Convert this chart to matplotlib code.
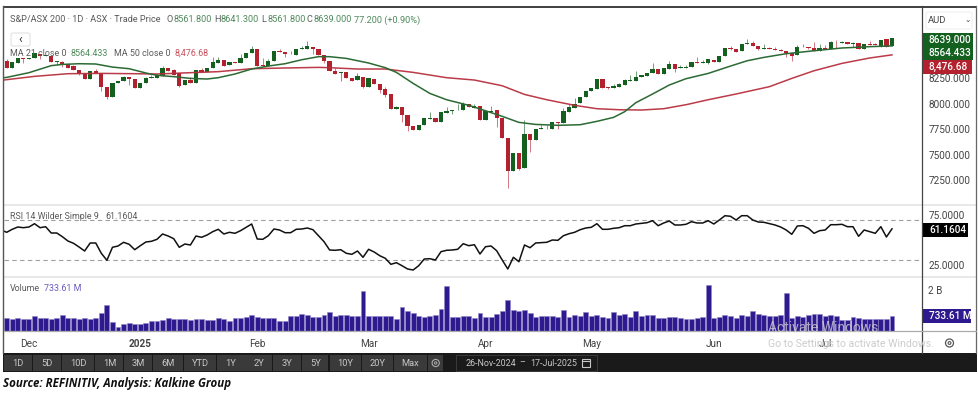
import matplotlib
matplotlib.use("Agg")
import matplotlib.pyplot as plt
from matplotlib.patches import Rectangle, FancyBboxPatch, Circle
import numpy as np

plt.rcParams['font.family'] = ['Roboto', 'DejaVu Sans']

W, H = 979, 395

opens = [8416, 8351, 8400, 8443, 8436, 8443, 8482, 8469, 8469, 8407, 8407, 8387, 8367, 8325, 8292, 8243,
         8318, 8302, 8165, 8063, 8198, 8221, 8256, 8237, 8152, 8197, 8250, 8253, 8272, 8344, 8331, 8295,
         8184, 8230, 8204, 8325, 8305, 8344, 8400, 8423, 8374, 8406, 8393, 8442, 8498, 8530, 8374, 8367,
         8416, 8517, 8504, 8481, 8475, 8534, 8534, 8553, 8537, 8475, 8413, 8321, 8298, 8305, 8250, 8230,
         8263, 8165, 8243, 8194, 8138, 8089, 7949, 7962, 7887, 7782, 7743, 7786, 7851, 7861, 7822, 7910,
         7926, 7942, 7939, 7998, 7959, 7975, 7841, 7916, 7933, 7857, 7661, 7338, 7511, 7364, 7704, 7639,
         7746, 7763, 7750, 7815, 7812, 7920, 7959, 8001, 8067, 8125, 8138, 8236, 8161, 8148, 8165, 8184,
         8223, 8223, 8256, 8269, 8295, 8341, 8289, 8338, 8383, 8348, 8351, 8357, 8403, 8397, 8400, 8429,
         8403, 8462, 8544, 8537, 8511, 8586, 8596, 8563, 8537, 8544, 8537, 8524, 8517, 8498, 8472, 8550,
         8553, 8547, 8514, 8544, 8534, 8596, 8593, 8602, 8583, 8593, 8534, 8583, 8583, 8557, 8629, 8561.8]
closes = [8351, 8403, 8443, 8433, 8443, 8492, 8469, 8475, 8410, 8413, 8377, 8348, 8325, 8289, 8243, 8318,
          8302, 8158, 8063, 8201, 8221, 8256, 8237, 8152, 8197, 8253, 8256, 8282, 8348, 8321, 8282, 8174,
          8230, 8204, 8328, 8305, 8348, 8403, 8426, 8367, 8403, 8393, 8442, 8498, 8530, 8367, 8367, 8416,
          8517, 8508, 8481, 8488, 8534, 8540, 8563, 8534, 8475, 8413, 8321, 8289, 8308, 8246, 8223, 8266,
          8165, 8246, 8191, 8132, 8083, 7946, 7962, 7887, 7779, 7743, 7789, 7854, 7857, 7815, 7916, 7926,
          7933, 7949, 7995, 7965, 7972, 7841, 7926, 7929, 7861, 7658, 7338, 7511, 7361, 7704, 7639, 7746,
          7760, 7756, 7815, 7809, 7923, 7969, 7998, 8067, 8125, 8148, 8236, 8155, 8152, 8171, 8187, 8230,
          8227, 8259, 8276, 8295, 8341, 8289, 8348, 8387, 8338, 8357, 8357, 8403, 8397, 8406, 8433, 8403,
          8468, 8544, 8537, 8508, 8586, 8589, 8560, 8534, 8540, 8530, 8524, 8517, 8491, 8468, 8550, 8557,
          8544, 8514, 8540, 8537, 8602, 8589, 8602, 8583, 8586, 8530, 8583, 8576, 8570, 8625, 8553, 8639]
highs = [8433, 8403, 8443, 8443, 8446, 8492, 8485, 8479, 8469, 8413, 8413, 8390, 8377, 8328, 8296, 8322,
         8335, 8302, 8165, 8201, 8221, 8272, 8256, 8237, 8197, 8256, 8279, 8289, 8367, 8344, 8341, 8295,
         8230, 8256, 8331, 8344, 8348, 8452, 8452, 8426, 8403, 8410, 8481, 8498, 8563, 8530, 8442, 8433,
         8517, 8530, 8504, 8514, 8534, 8566, 8609, 8553, 8537, 8475, 8413, 8351, 8308, 8305, 8250, 8295,
         8263, 8246, 8243, 8194, 8165, 8089, 7978, 7962, 7887, 7782, 7789, 7854, 7913, 7861, 7916, 7962,
         7933, 7995, 8014, 8000, 7995, 7975, 7926, 7975, 7933, 7857, 7661, 7511, 7511, 7838, 7704, 7746,
         7789, 7789, 7815, 7820, 7952, 7995, 8050, 8067, 8125, 8148, 8236, 8236, 8161, 8191, 8204, 8243,
         8279, 8318, 8276, 8295, 8393, 8341, 8348, 8416, 8383, 8374, 8374, 8403, 8452, 8426, 8433, 8429,
         8468, 8544, 8563, 8537, 8586, 8632, 8609, 8563, 8579, 8557, 8550, 8534, 8517, 8498, 8573, 8579,
         8553, 8606, 8579, 8573, 8615, 8622, 8612, 8606, 8606, 8593, 8583, 8615, 8596, 8625, 8629, 8641.3]
lows = [8351, 8351, 8400, 8394, 8436, 8443, 8433, 8469, 8410, 8377, 8361, 8348, 8325, 8283, 8240, 8237,
        8302, 8125, 8047, 8063, 8198, 8221, 8181, 8152, 8149, 8197, 8250, 8253, 8272, 8321, 8282, 8158,
        8184, 8204, 8204, 8305, 8305, 8344, 8400, 8367, 8374, 8393, 8393, 8442, 8498, 8367, 8367, 8367,
        8416, 8508, 8452, 8481, 8475, 8534, 8534, 8485, 8475, 8393, 8314, 8289, 8220, 8246, 8220, 8230,
        8152, 8165, 8191, 8099, 8067, 7946, 7949, 7822, 7733, 7743, 7743, 7786, 7851, 7815, 7822, 7910,
        7900, 7936, 7939, 7965, 7955, 7841, 7841, 7916, 7773, 7658, 7168, 7338, 7345, 7364, 7527, 7639,
        7746, 7750, 7750, 7746, 7812, 7920, 7959, 8001, 8067, 8125, 8138, 8155, 8138, 8148, 8165, 8184,
        8223, 8223, 8256, 8269, 8295, 8289, 8289, 8338, 8312, 8348, 8351, 8357, 8397, 8397, 8383, 8403,
        8403, 8462, 8524, 8508, 8511, 8586, 8560, 8524, 8537, 8530, 8524, 8517, 8459, 8416, 8472, 8550,
        8530, 8514, 8514, 8537, 8534, 8547, 8593, 8583, 8557, 8530, 8534, 8576, 8570, 8557, 8553, 8561.8]

ma21_idx = [-1, 0, 4, 8, 10, 13, 16, 19, 22, 25, 27, 30, 33, 36, 38, 41, 44, 47, 50, 53, 56, 58, 61, 65, 68, 70,
            73, 76, 79, 83, 86, 89, 92, 95, 99, 103, 106, 109, 111, 113, 116, 119, 122, 126, 130, 133, 136,
            140, 145, 150, 155, 159]
ma21 = [8250, 8256, 8302, 8371, 8383, 8390, 8387, 8357, 8341, 8299, 8276, 8263, 8246, 8240, 8253, 8289, 8338,
        8367, 8390, 8429, 8459, 8459, 8442, 8397, 8351, 8305, 8197, 8099, 8037, 7982, 7929, 7874, 7815, 7795,
        7786, 7792, 7825, 7864, 7920, 8008, 8093, 8181, 8243, 8295, 8367, 8419, 8452, 8488, 8517, 8544, 8557,
        8564.433]
ma50_idx = [-1, 5, 11, 17, 23, 27, 33, 38, 44, 50, 56, 58, 63, 68, 73, 79, 84, 89, 93, 97, 102, 106, 110, 114,
            118, 122, 126, 131, 137, 141, 145, 150, 155, 159]
ma50 = [8227, 8266, 8292, 8295, 8292, 8289, 8302, 8312, 8341, 8348, 8354, 8351, 8338, 8338, 8305, 8253, 8230,
        8174, 8089, 8037, 7982, 7949, 7939, 7936, 7949, 7988, 8037, 8093, 8165, 8246, 8321, 8393, 8446, 8476.68]

# first value sits one day before the first candle, at the pane's left edge
rsi = [60, 57.7, 60.7, 63, 62.3, 63, 66.3, 62.3, 63.3, 57, 57, 53.3, 49, 46.7, 43, 39, 47, 47, 36.7, 29.7, 42.7,
       44, 47.7, 45.7, 40.3, 44.3, 48, 48.7, 50.7, 56, 54, 51.3, 42.7, 46, 45, 54, 52.7, 55, 58.3, 60.7, 56,
       57.7, 56.7, 59.3, 62.7, 66, 51, 50.7, 54.3, 61, 60, 57.3, 57.3, 60.7, 61, 62, 60.3, 54.3, 48.3, 40,
       39.7, 40.3, 36.7, 35.7, 39, 32.7, 40.7, 38, 34.3, 31.7, 25.7, 27.3, 24.3, 21, 20, 24.3, 31, 31.3, 30,
       38.3, 39.7, 40, 40.7, 46.3, 44.3, 45.3, 36, 43.3, 44, 39.3, 30, 21, 32.7, 28.3, 45, 42.3, 47, 47.3,
       47.7, 50, 49.7, 54.3, 56.3, 57.7, 60.3, 62, 62.7, 66.3, 60.7, 60.7, 61.7, 62.3, 64.3, 64.3, 66, 66.7,
       67.3, 69.3, 64.3, 67, 69, 65, 65, 65.7, 68.3, 67, 67, 69.3, 66, 70, 74.3, 73.7, 70, 74.3, 74.3, 70, 68,
       67.7, 66.3, 65, 63, 60, 55.7, 64, 64.3, 61.7, 56.7, 59.3, 60, 65.3, 65.3, 65.7, 63.3, 63.3, 53.7, 60,
       58.3, 56.7, 63.3, 53, 61.16]

volume = [619, 571, 619, 571, 587, 717, 652, 652, 603, 652, 782, 652, 652, 571, 652, 603, 619, 864, 1271, 456,
          212, 342, 375, 342, 342, 375, 505, 473, 538, 619, 587, 587, 587, 554, 587, 587, 522, 538, 619, 587,
          473, 652, 636, 668, 782, 668, 636, 652, 652, 505, 505, 717, 717, 815, 782, 685, 685, 782, 929,
          717, 782, 782, 717, 717, 1972, 750, 750, 750, 750, 717, 571, 1157, 994, 864, 750, 685, 717, 782,
          1060, 2200, 685, 685, 750, 750, 636, 864, 685, 685, 815, 994, 1516, 1027, 962, 1027, 864, 685,
          717, 750, 717, 685, 1027, 685, 782, 750, 929, 717, 782, 685, 636, 929, 782, 815, 685, 962, 750,
          782, 782, 636, 636, 685, 685, 652, 571, 571, 619, 668, 2233, 619, 701, 766, 717, 619, 766, 750,
          978, 815, 782, 750, 717, 766, 1842, 652, 717, 685, 766, 848, 848, 717, 766, 750, 538, 538, 685,
          652, 571, 603, 571, 571, 571, 733.61]

month_idx = [4, 24, 45, 65, 86, 105, 127, 147]
month_labels = ['Dec', '2025', 'Feb', 'Mar', 'Apr', 'May', 'Jun', 'Jul']
price_ticks = [7250, 7500, 7750, 8000, 8250]
range_buttons = ['1D', '5D', '10D', '1M', '3M', '6M', 'YTD', '1Y', '2Y', '3Y', '5Y', '10Y', '20Y', 'Max']

GREEN = '#14601f'
RED = '#b3212f'
PURPLE = '#2e1a8e'
GREY = '#5a5a5a'


def pane(y0, y1, ylim):
    # axes placed by pixel rows, x is the trading day number
    ax = fig.add_axes([3.5 / W, 1 - y1 / H, (922 - 3.5) / W, (y1 - y0) / H])
    ax.set_xlim((3.5 - 6.67) / 5.568, (922 - 6.67) / 5.568)
    ax.set_ylim(*ylim)
    for s in ax.spines.values():
        s.set_visible(False)
    ax.set_xticks([])
    ax.yaxis.tick_right()
    ax.tick_params(axis='y', length=0, pad=4.5, labelsize=7.2, labelcolor='#444444')
    return ax


fig = plt.figure(figsize=(W / 100, H / 100), dpi=100)

# price pane
ax = pane(8, 204, (7015, 8936))
x = np.arange(len(closes))
o, c, h, l = map(np.array, (opens, closes, highs, lows))
col = [GREEN if cc >= oo else RED for oo, cc in zip(o, c)]
ax.vlines(x, l, h, colors=col, linewidth=0.7, alpha=0.6)
ax.bar(x, np.maximum(np.abs(c - o), 6), bottom=np.minimum(o, c), width=0.76, color=col, linewidth=0)
ax.plot(ma50_idx, ma50, color='#b8303f', lw=1.1, alpha=0.95)
ax.plot(ma21_idx, ma21, color='#2c6a34', lw=1.1)
ax.set_yticks(price_ticks)
ax.set_yticklabels(['%.3f' % t for t in price_ticks])

# rsi pane
ax2 = pane(206, 276, (14, 84))
ax2.axhline(70, color='#a0a0a0', lw=0.8, ls=(0, (4, 3)))
ax2.axhline(30, color='#a0a0a0', lw=0.8, ls=(0, (4, 3)))
ax2.plot(np.arange(len(rsi)) - 1, rsi, color='#111111', lw=1.1)
ax2.set_yticks([25, 75])
ax2.set_yticklabels(['25.0000', '75.0000'])

# volume pane
ax3 = pane(278, 331, (0, 2592))
ax3.bar(x, volume, width=0.88, color=PURPLE, edgecolor='#8f85c8', linewidth=0.4)
ax3.set_yticks([2000])
ax3.set_yticklabels(['2 B'])
ax3.set_xticks(month_idx)
ax3.set_xticklabels(month_labels)
ax3.tick_params(axis='x', length=0, pad=5.5, labelsize=7.2, labelcolor='#444444')
ax3.get_xticklabels()[1].set_fontweight('bold')

# overlay in pixel coordinates for the terminal frame and labels
ov = fig.add_axes([0, 0, 1, 1], zorder=5)
ov.set_xlim(0, W)
ov.set_ylim(H, 0)
ov.axis('off')
ov.patch.set_alpha(0)

ov.add_patch(Rectangle((3, 6), 974, 2.2, color='#444444', lw=0))
ov.plot([3.3, 3.3], [6, 353], color='#555555', lw=1)
ov.plot([922.5, 922.5], [6, 353], color='#444444', lw=0.9)
ov.plot([976.5, 976.5], [6, 353], color='#666666', lw=0.9)
ov.add_patch(Rectangle((4, 204), 972, 2, color='#e8e8e8', lw=0, zorder=0.5))
ov.add_patch(Rectangle((4, 276), 972, 2, color='#e8e8e8', lw=0, zorder=0.5))
ov.plot([4, 976], [331, 331], color='#aaaaaa', lw=0.9)

# header text
hdr_y = 20
ov.text(10, hdr_y, 'S&P/ASX 200 · 1D · ASX · Trade Price', fontsize=6.6, color=GREY, va='center')
hdr_green = '#4f8a5b'
for xp, lab, val in [(167, 'O', '8561.800'), (214, 'H', '8641.300'), (261, 'L', '8561.800'), (307, 'C', '8639.000')]:
    ov.text(xp, hdr_y, lab, fontsize=6.6, color=GREY, va='center')
    ov.text(xp + 7, hdr_y, val, fontsize=6.6, color=hdr_green, va='center')
ov.text(354, hdr_y, '77.200 (+0.90%)', fontsize=6.6, color=hdr_green, va='center')

ov.add_patch(FancyBboxPatch((11, 33), 19, 13, boxstyle='round,pad=0,rounding_size=2', fc='white', ec='#dddddd', lw=0.7))
ov.text(20.5, 39.5, '‹', fontsize=9, color='#333333', ha='center', va='center')

ov.text(10, 53.5, 'MA 21 close 0', fontsize=6.4, color=GREY, va='center')
ov.text(71, 53.5, '8564.433', fontsize=6.4, color=hdr_green, va='center')
ov.text(114, 53.5, 'MA 50 close 0', fontsize=6.4, color=GREY, va='center')
ov.text(175, 53.5, '8,476.68', fontsize=6.4, color='#c8505a', va='center')

ov.text(10, 216.5, 'RSI 14 Wilder Simple 9', fontsize=6.4, color=GREY, va='center')
ov.text(105, 216.5, '61.1604', fontsize=6.4, color=GREY, va='center')
ov.text(10, 288.5, 'Volume', fontsize=6.4, color=GREY, va='center')
ov.text(44.5, 288.5, '733.61 M', fontsize=6.4, color='#6a5cc0', va='center')

# right axis tags
ov.add_patch(FancyBboxPatch((926, 12), 46, 17, boxstyle='round,pad=0,rounding_size=2', fc='white', ec='#eeeeee', lw=0.7))
ov.text(928, 20.5, 'AUD', fontsize=6.8, color='#444444', va='center')
ov.text(968, 20.5, '⌄', fontsize=5.5, color='#444444', ha='center', va='center')
for y0, y1, x1, fc, lab in [(33, 46.5, 973, GREEN, '8639.000'), (46.5, 60, 973, GREEN, '8564.433'),
                            (60, 73.5, 972, RED, '8,476.68'), (223, 237, 968, 'black', '61.1604'),
                            (309, 323, 971, PURPLE, '733.61 M')]:
    ov.add_patch(Rectangle((923, y0), x1 - 923, y1 - y0, color=fc, lw=0))
    ov.text(929, (y0 + y1) / 2, lab, fontsize=7.2, color='white', va='center', fontweight='medium')

# watermark, it runs across the Jul label in the reference too
ov.text(768, 327.5, 'Activate Windows', fontsize=10, color='#d4d4d4', va='center', alpha=0.75)
ov.text(768, 344, 'Go to Settings to activate Windows.', fontsize=7.6, color='#cccccc', va='center')

# settings gear
ov.add_patch(Circle((949.5, 343), 4, fc='none', ec='#555555', lw=0.9))
ov.add_patch(Circle((949.5, 343), 1.4, fc='none', ec='#555555', lw=0.8))

# range toolbar
ov.add_patch(Rectangle((3, 353), 974, 19, color='#1a1a1a', lw=0))
btn_x0 = [4, 33.5, 62, 95.5, 124.5, 153.5, 184, 217, 245.5, 273.5, 302, 330, 362, 394]
btn_x1 = [32.5, 61, 94.5, 123.5, 152.5, 183, 216, 245, 272.5, 301, 328.5, 361, 393, 427]
for x0, x1, lab in zip(btn_x0, btn_x1, range_buttons):
    ov.add_patch(Rectangle((x0, 355), x1 - x0, 16, color='#3a3a3a', lw=0))
    ov.text((x0 + x1) / 2, 363, lab, fontsize=6.7, color='#c8c8c8', ha='center', va='center')
ov.add_patch(Rectangle((428, 355), 15.5, 16, color='#3a3a3a', lw=0))
ov.add_patch(Circle((435.7, 363), 3.6, fc='none', ec='#aaaaaa', lw=0.8))
ov.add_patch(Circle((435.7, 363), 1.2, fc='none', ec='#aaaaaa', lw=0.7))
ov.add_patch(Rectangle((456, 355), 141, 16, fc='#1a1a1a', ec='#3a3a3a', lw=0.7))
ov.text(466, 363, '26-Nov-2024', fontsize=6.4, color='#c8c8c8', va='center')
ov.text(519, 363, '–', fontsize=6.4, color='#c8c8c8', va='center')
ov.text(530, 363, '17-Jul-2025', fontsize=6.4, color='#c8c8c8', va='center')
ov.add_patch(Rectangle((582, 359), 8, 8, fc='none', ec='#c8c8c8', lw=0.8))
ov.plot([582, 590], [361, 361], color='#c8c8c8', lw=0.8)

ov.text(3, 384, 'Source: REFINITIV, Analysis: Kalkine Group', fontsize=8.3, color='#111111', va='center',
        fontstyle='italic', fontweight='bold', family=['Open Sans', 'DejaVu Sans'])

fig.savefig('out.png', dpi=100)
